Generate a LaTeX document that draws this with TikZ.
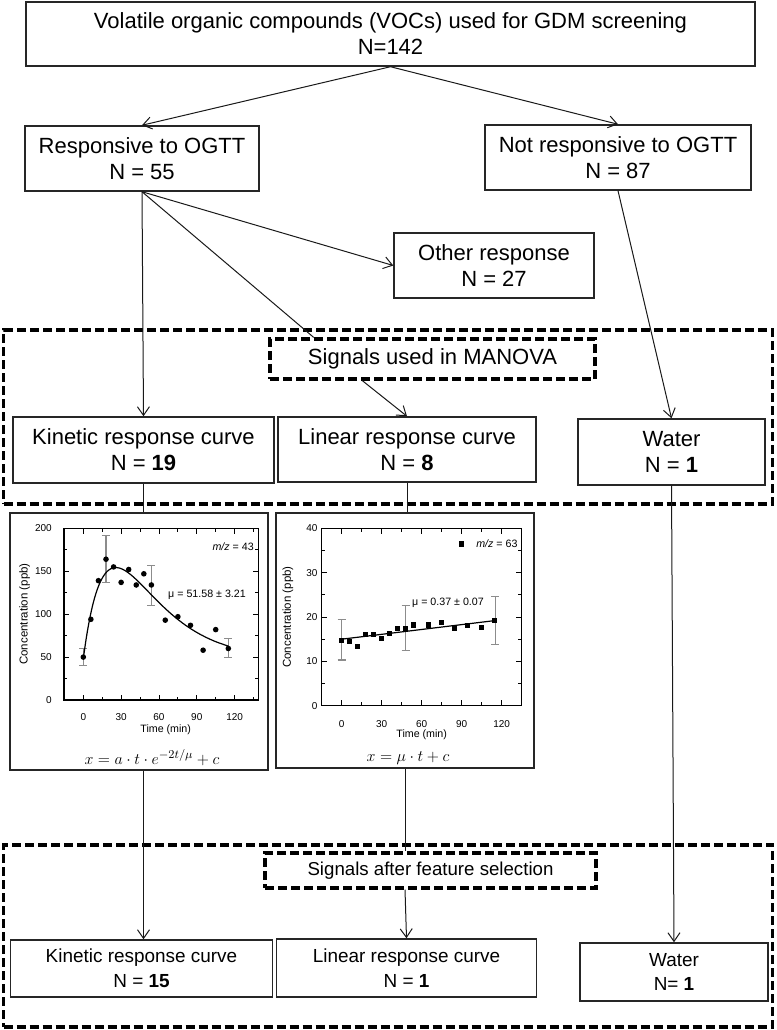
\documentclass[tikz,border=0pt]{standalone}
\usepackage{fontspec}
\setmainfont{Liberation Sans}
\usetikzlibrary{arrows.meta,calc}
\tikzset{
  box/.style={draw=black!85, line width=1.1pt, align=center, inner sep=0pt, font=\fontsize{16.5}{19.5}\selectfont},
  sbox/.style={box, font=\fontsize{14.2}{18.7}\selectfont},
  dbox/.style={draw=black, line width=2.4pt, dash pattern=on 6.75pt off 3pt, inner sep=0pt},
  arr/.style={draw=black!90, line width=0.75pt, -{Straight Barb[length=6.5pt,width=9pt]}},
  ln/.style={draw=black!90, line width=0.75pt},
  pframe/.style={draw=black!85, line width=1pt, inner sep=0pt},
  axis/.style={draw=black, line width=0.8pt},
  tick/.style={draw=black, line width=0.6pt},
  ticklab/.style={font=\fontsize{7.5}{9}\selectfont, inner sep=0pt},
  ylab/.style={font=\fontsize{8.6}{10}\selectfont, inner sep=0pt, rotate=90},
  ann/.style={font=\fontsize{8}{10}\selectfont, inner sep=0pt},
  ebar/.style={draw=black!45, line width=0.8pt},
  formula/.style={font=\fontsize{12.2}{14}\selectfont, inner sep=0pt}
}
\begin{document}
\begin{tikzpicture}[x=0.75pt,y=-0.75pt]
\useasboundingbox (0,0) rectangle (776,1030);

% dashed containers
\node[dbox, minimum width=769*0.75pt, minimum height=174*0.75pt] (dashA) at (388,417) {};
\node[dbox, minimum width=769*0.75pt, minimum height=182*0.75pt] (dashB) at (388,936) {};

% boxes
\node[box, minimum width=729*0.75pt, minimum height=64*0.75pt] (top) at (390.5,34) {Volatile organic compounds (VOCs) used for GDM screening\\N=142};
\node[box, minimum width=234*0.75pt, minimum height=65*0.75pt] (resp) at (142,158.5) {Responsive to OGTT\\N = 55};
\node[box, minimum width=266*0.75pt, minimum height=65*0.75pt] (notresp) at (618,157.5) {Not responsive to OGTT\\N = 87};
\node[box, minimum width=200*0.75pt, minimum height=65*0.75pt] (other) at (494,265.5) {Other response\\N = 27};
\node[dbox, minimum width=325*0.75pt, minimum height=40*0.75pt, font=\fontsize{16.5}{19.5}\selectfont] (manova) at (432.5,359) {Signals used in MANOVA};
\node[box, minimum width=261*0.75pt, minimum height=66*0.75pt] (kin) at (143.5,450) {Kinetic response curve\\N = \textbf{19}};
\node[box, minimum width=258*0.75pt, minimum height=65*0.75pt] (lin) at (407,449.5) {Linear response curve\\N = \textbf{8}};
\node[box, minimum width=187*0.75pt, minimum height=66*0.75pt] (water) at (671.5,452) {Water\\N = \textbf{1}};

\node[dbox, minimum width=331*0.75pt, minimum height=35*0.75pt, font=\fontsize{14}{17}\selectfont] (feat) at (430.5,870.5) {Signals after feature selection};
\node[sbox, minimum width=262*0.75pt, minimum height=57*0.75pt] (kinF) at (141.5,968.5) {Kinetic response curve\\N = \textbf{15}};
\node[sbox, minimum width=260*0.75pt, minimum height=58*0.75pt] (linF) at (406.5,968) {Linear response curve\\N = \textbf{1}};
\node[sbox, minimum width=188*0.75pt, minimum height=58*0.75pt] (waterF) at (674,972) {Water\\N= \textbf{1}};

% plot frames
\node[pframe, minimum width=258*0.75pt, minimum height=257*0.75pt] (plotA) at (139,641.5) {};
\node[pframe, minimum width=258*0.75pt, minimum height=255*0.75pt] (plotB) at (405,640.5) {};

% ---------- plot A (kinetic) ----------
\begin{scope}[shift={(83.3,700)}, x=0.94575pt, y=0.6439pt]
  \draw[axis] (-15.3,0) rectangle (139,200);
  \foreach \t in {0,30,...,120} {
    \draw[tick] (\t,0) -- ++(0pt,4pt);
    \draw[tick] (\t,200) -- ++(0pt,-4pt);
    \node[ticklab] at (\t,0) [yshift=-12.5pt] {\t};
  }
  \foreach \t in {15,45,...,135} {
    \draw[tick] (\t,0) -- ++(0pt,2.5pt);
    \draw[tick] (\t,200) -- ++(0pt,-2.5pt);
  }
  \foreach \v in {0,50,...,200} {
    \draw[tick] (-15.3,\v) -- ++(4pt,0pt);
    \draw[tick] (139,\v) -- ++(-4pt,0pt);
    \node[ticklab, anchor=east] at (-15.3,\v) [xshift=-9pt] {\v};
  }
  \foreach \v in {25,75,...,175} {
    \draw[tick] (-15.3,\v) -- ++(2.5pt,0pt);
    \draw[tick] (139,\v) -- ++(-2.5pt,0pt);
  }
  \foreach \t/\lo/\hi in {0/40/60, 18/137/192, 54/110/157, 115/49/72} {
    \draw[ebar] (\t,\lo) -- (\t,\hi);
    \draw[ebar] (\t,\lo) ++(-3pt,0pt) -- ++(6pt,0pt);
    \draw[ebar] (\t,\hi) ++(-3pt,0pt) -- ++(6pt,0pt);
  }
  \draw[line width=0.9pt, smooth, samples=80, domain=0:115] plot (\x, {11.2*\x*exp(-2*\x/51.58)+48});
  \foreach \t/\v in {0/50, 6/94, 12/139, 18/164, 24/155, 30/137, 36/152, 42/134, 48/147, 54/134, 65/93, 75/97, 85/87, 95/58, 105/82, 115/60}
    \fill (\t,\v) circle[radius=2.1pt];
\end{scope}
\node[ylab] (ylA) at (24.7,614) {Concentration (ppb)};
\node[ann] (tA) at (165.7,729.5) {Time (min)};
\node[ann, anchor=east] (mzA) at (254,547) {\textit{m/z} = 43};
\node[ann] (muA) at (207,595) {μ = 51.58 ± 3.21};
\node[formula] (fA) at (152,758) {$x = a\cdot t\cdot e^{-2t/\mu} + c$};

% ---------- plot B (linear) ----------
\begin{scope}[shift={(341.7,705.7)}, x=1.0pt, y=3.326pt]
  \draw[axis] (-15,0) rectangle (135,40);
  \foreach \t in {0,30,...,120} {
    \draw[tick] (\t,0) -- ++(0pt,4pt);
    \draw[tick] (\t,40) -- ++(0pt,-4pt);
    \node[ticklab] at (\t,0) [yshift=-13.5pt] {\t};
  }
  \foreach \t in {15,45,...,105} {
    \draw[tick] (\t,0) -- ++(0pt,2.5pt);
    \draw[tick] (\t,40) -- ++(0pt,-2.5pt);
  }
  \foreach \v in {0,10,...,40} {
    \draw[tick] (-15,\v) -- ++(4pt,0pt);
    \draw[tick] (135,\v) -- ++(-4pt,0pt);
    \node[ticklab, anchor=east] at (-15,\v) [xshift=-3pt] {\v};
  }
  \foreach \v in {5,15,...,35} {
    \draw[tick] (-15,\v) -- ++(2.5pt,0pt);
    \draw[tick] (135,\v) -- ++(-2.5pt,0pt);
  }
  \foreach \t/\lo/\hi in {0/10.3/19.4, 48/12.5/22.6, 115/13.9/24.6} {
    \draw[ebar] (\t,\lo) -- (\t,\hi);
    \draw[ebar] (\t,\lo) ++(-3pt,0pt) -- ++(6pt,0pt);
    \draw[ebar] (\t,\hi) ++(-3pt,0pt) -- ++(6pt,0pt);
  }
  \draw[line width=0.9pt] (0,15) -- (115,19.2);
  \foreach \t/\v in {0/14.8, 5.75/14.5, 11.75/13.3, 17.75/16.1, 24/16.1, 30/15.1, 36/16.2, 42/17.4, 48/17.5, 54/18.2, 65/18.2, 74.75/18.7, 84.5/17.4, 94.5/18.0, 104.5/17.6, 114.25/19.2}
    \fill (\t,\v) ++(-1.9pt,-1.9pt) rectangle ++(3.8pt,3.8pt);
\end{scope}
\fill (461.7,544) ++(-1.9pt,-1.9pt) rectangle ++(3.8pt,3.8pt);
\node[ylab] (ylB) at (288,617) {Concentration (ppb)};
\node[ann] (tB) at (421.7,735) {Time (min)};
\node[ann, anchor=west] (mzB) at (476,544) {\textit{m/z} = 63};
\node[ann] (muB) at (448,603) {μ = 0.37 ± 0.07};
\node[formula] (fB) at (408,758) {$x = \mu\cdot t + c$};

% ---------- connectors ----------
\draw[arr] (top.south) -- (resp.north);
\draw[arr] (top.south) -- (notresp.north);
\draw[arr] (resp.south) -- (other.west);
\draw[arr] (resp.south) -- (kin.north);
\draw[ln] (resp.south) -- ($(manova.north west)!0.138!(manova.north east)$);
\draw[arr] ($(manova.south west)!0.286!(manova.south east)$) -- (lin.north);
\draw[arr] (notresp.south) -- (water.north);
\draw[ln] (kin.south) -- (kin.south |- plotA.north);
\draw[ln] (lin.south) -- (lin.south |- plotB.north);
\draw[arr] (kin.south |- plotA.south) -- (kin.south |- kinF.north);
\draw[ln] (plotB.south) -- (plotB.south |- feat.north);
\draw[arr] (plotB.south |- feat.south) -- (linF.north);
\draw[arr] (water.south) -- (waterF.north);
\end{tikzpicture}
\end{document}
